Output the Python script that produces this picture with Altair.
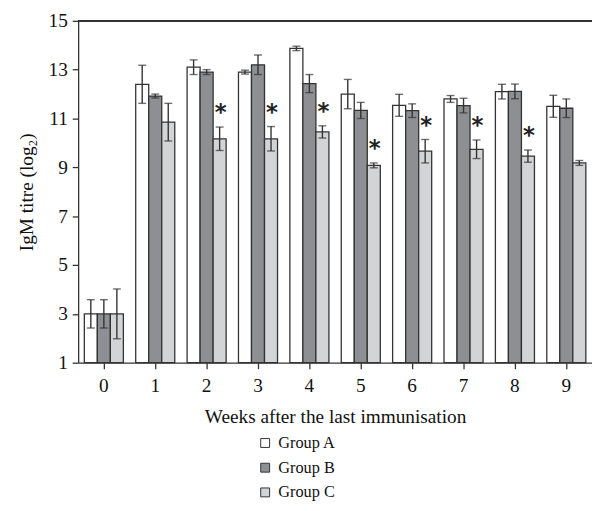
import altair as alt
import pandas as pd

weeks = [0, 1, 2, 3, 4, 5, 6, 7, 8, 9]
groups = ["Group A", "Group B", "Group C"]
a_mean = [3.0, 12.4, 13.1, 12.9, 13.87, 12.0, 11.54, 11.8, 12.1, 11.5]
a_err = [0.58, 0.78, 0.3, 0.08, 0.09, 0.6, 0.45, 0.14, 0.3, 0.45]
b_mean = [3.0, 11.92, 12.9, 13.2, 12.43, 11.33, 11.32, 11.53, 12.11, 11.42]
b_err = [0.58, 0.08, 0.1, 0.4, 0.37, 0.33, 0.28, 0.3, 0.3, 0.38]
c_mean = [3.0, 10.85, 10.17, 10.17, 10.45, 9.08, 9.66, 9.74, 9.46, 9.18]
c_err = [1.02, 0.77, 0.48, 0.5, 0.25, 0.1, 0.48, 0.38, 0.25, 0.1]
c_sig = [False, False, True, True, True, True, True, True, True, False]
fills = ["#ffffff", "#8e8f92", "#d3d4d6"]

rows = []
for g, means, errs in zip(groups, [a_mean, b_mean, c_mean], [a_err, b_err, c_err]):
    for i, w in enumerate(weeks):
        rows.append({
            "week": str(w), "group": g, "mean": means[i],
            "lo": means[i] - errs[i], "hi": means[i] + errs[i],
            "sig": g == "Group C" and c_sig[i],
        })
df = pd.DataFrame(rows)

W, H = 520, 346
FONT = "Liberation Serif"
INK = "#333333"

x = alt.X("week:N", sort=[str(w) for w in weeks],
          scale=alt.Scale(paddingInner=0.24, paddingOuter=0.12),
          axis=alt.Axis(title="Weeks after the last immunisation", labelAngle=0,
                        tickSize=6, labelPadding=8, titleY=55, titleBaseline="middle"))
xo = alt.XOffset("group:N", sort=groups, scale=alt.Scale(paddingInner=0, paddingOuter=0))
base = alt.Chart(df).encode(x=x, xOffset=xo)

ysc = alt.Scale(domain=[1, 15], nice=False, zero=False)
yaxis = alt.Axis(title="IgM titre (log₂)", values=list(range(1, 16)),
                 labelExpr="datum.value % 2 == 1 ? datum.label : ''",
                 tickSize=6, labelPadding=5, grid=False,
                 titleX=-52, titleY=H / 2, titleAngle=-90, titleBaseline="middle",
                 titleAlign="center")

bars = base.mark_bar(stroke=INK, strokeWidth=1.3).encode(
    y=alt.Y("mean:Q", scale=ysc, axis=yaxis),
    y2=alt.datum(1),
    fill=alt.Fill("group:N", sort=groups,
                  scale=alt.Scale(domain=groups, range=fills),
                  legend=alt.Legend(title=None, orient="none", legendX=181, legendY=419,
                                    direction="vertical", symbolType="square",
                                    symbolSize=81, symbolStrokeColor=INK,
                                    symbolStrokeWidth=1, rowPadding=8,
                                    labelFontSize=16.5, labelFont=FONT, labelOffset=5)),
)
err = base.mark_rule(color=INK, strokeWidth=1.4).encode(y="lo:Q", y2="hi:Q")
cap_lo = base.mark_tick(color=INK, thickness=1.4, size=8).encode(y="lo:Q")
cap_hi = base.mark_tick(color=INK, thickness=1.4, size=8).encode(y="hi:Q")
stars = base.transform_filter("datum.sig").mark_text(
    text="*", font="DejaVu Sans", fontSize=23, fontWeight="bold", color="#222222",
    baseline="middle", dy=-14, dx=1).encode(y="hi:Q")
top = alt.Chart(df).mark_rule(color=INK, strokeWidth=1.3).encode(
    y=alt.datum(15), x=alt.value(0), x2=alt.value(W))

chart = alt.layer(bars, err, cap_lo, cap_hi, stars, top).properties(
    width=W, height=H,
    autosize=alt.AutoSizeParams(type="none"),
    padding={"left": 71, "top": 10, "right": 0, "bottom": 139},
).configure_view(stroke=None).configure_axis(
    labelFont=FONT, titleFont=FONT, labelFontSize=19.5, titleFontSize=19.5,
    titleFontWeight="normal", labelColor="#111", titleColor="#111",
    domainColor=INK, tickColor=INK, domainWidth=1.3, tickWidth=1.3,
).configure_legend(labelColor="#111")

chart.save("out.html", embed_options={"renderer": "svg", "actions": False})
